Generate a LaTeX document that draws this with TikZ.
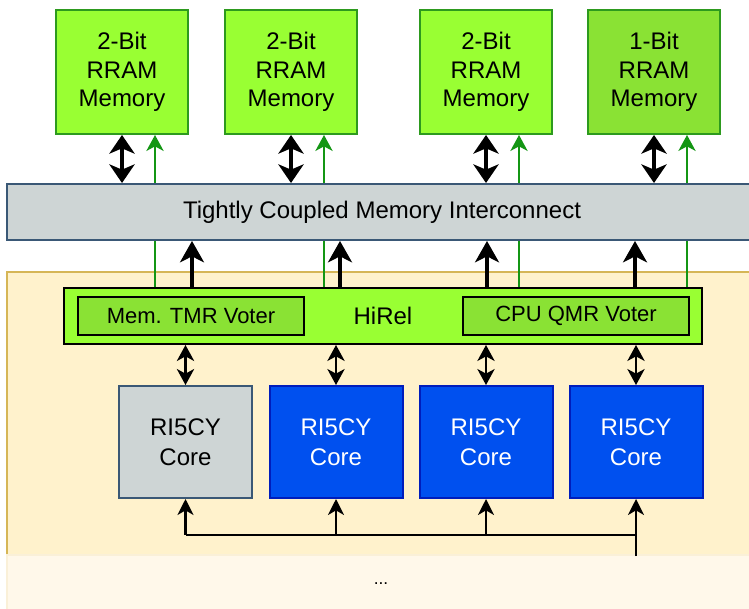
\documentclass[tikz,border=0pt]{standalone}
\usepackage{fontspec}
\setmainfont{Liberation Sans}
\usetikzlibrary{arrows.meta,calc}

\definecolor{memfill}{RGB}{153,255,51}
\definecolor{memfilldk}{RGB}{138,226,52}
\definecolor{memline}{RGB}{45,154,30}
\definecolor{busgreen}{RGB}{20,150,20}
\definecolor{tcifill}{RGB}{206,213,213}
\definecolor{tciline}{RGB}{58,88,118}
\definecolor{socfill}{RGB}{255,242,204}
\definecolor{socline}{RGB}{214,182,86}
\definecolor{fadefill}{RGB}{255,248,234}
\definecolor{corefill}{RGB}{0,80,239}
\definecolor{coreline}{RGB}{0,29,188}

\tikzset{every picture/.style={line width=0.75pt}}
\tikzset{
  membox/.style={draw=memline,fill=memfill,line width=1.5pt,minimum width=99pt,minimum height=93pt,
    inner sep=0pt,align=center,font=\fontsize{18}{21.5}\selectfont},
  corebox/.style={draw=coreline,fill=corefill,text=white,line width=1.5pt,minimum width=99.75pt,minimum height=84pt,
    inner sep=0pt,align=center,font=\fontsize{18}{22.5}\selectfont},
  voterbox/.style={draw=black,fill=memfilldk,line width=1.5pt,minimum width=169.5pt,minimum height=28.5pt,
    inner sep=0pt,font=\fontsize{16.5}{19}\selectfont},
  memlink/.style={line width=2.4pt,{Stealth[length=14pt,width=19pt,inset=4pt]}-{Stealth[length=14pt,width=19pt,inset=4pt]}},
  wrlink/.style={line width=2.4pt,-{Stealth[length=16pt,width=18pt,inset=4.5pt]}},
  eccline/.style={draw=busgreen,line width=1.1pt},
  corelink/.style={line width=1.6pt,{Stealth[length=12pt,width=13pt,inset=3.5pt]}-{Stealth[length=12pt,width=13pt,inset=3.5pt]}},
  buslink/.style={line width=1.6pt,-{Stealth[length=12pt,width=12pt,inset=3.5pt]}}
}

\begin{document}
\begin{tikzpicture}[x=0.75pt,y=0.75pt,yscale=-1,xscale=1]
  \clip (0,0) rectangle (749,609);

  %Shape: Rectangle [id:soc]
  \draw [draw=socline,fill=socfill,line width=1.5pt] (7,272) rectangle (770,555) ;
  %Shape: Rectangle [id:fade]
  \draw [draw=socline!12!fadefill,fill=fadefill,line width=1.5pt] (7,555) rectangle (770,620) ;

  % Memory banks
  \node [membox] (mem1) at (122,72) {2-Bit\\RRAM\\Memory};
  \node [membox] (mem2) at (291,72) {2-Bit\\RRAM\\Memory};
  \node [membox] (mem3) at (486,72) {2-Bit\\RRAM\\Memory};
  \node [membox,fill=memfilldk] (mem4) at (654,72) {1-Bit\\RRAM\\Memory};

  % Interconnect
  \node [draw=tciline,fill=tcifill,line width=1.5pt,minimum width=572.25pt,minimum height=42pt,inner sep=0pt] (tci) at (388.5,212) {};
  \node (tcilabel) at (382,212) {\fontsize{18}{21.5}\selectfont Tightly Coupled Memory Interconnect};

  % HiRel
  \node [draw=black,fill=memfill,line width=1.5pt,minimum width=478.5pt,minimum height=42pt,inner sep=0pt,
    font=\fontsize{18}{21.5}\selectfont] (hirel) at (383,316) {HiRel};
  \node [voterbox] (memvoter) at (191,316) {Mem. TMR Voter};
  \node [voterbox] (cpuvoter) at (576,316) {CPU QMR Voter};

  % Cores
  \node [corebox,fill=tcifill,draw=tciline,text=black] (core1) at (185.5,442) {RI5CY\\Core};
  \node [corebox] (core2) at (336,442) {RI5CY\\Core};
  \node [corebox] (core3) at (486,442) {RI5CY\\Core};
  \node [corebox] (core4) at (636,442) {RI5CY\\Core};

  \node (dots) at (381,584) {\fontsize{13}{15}\selectfont ...};

  % memory <-> interconnect
  \foreach \m in {mem1,mem2,mem3,mem4}{
    \draw [memlink] (\m.south) -- (\m.south |- tci.north) ;
    \draw [eccline,-{Stealth[length=12pt,width=13pt,inset=3.5pt]}] ([xshift=24.75pt]\m.south |- tci.north) -- ([xshift=24.75pt]\m.south) ;
    \draw [eccline] ([xshift=24.75pt]\m.south |- hirel.north) -- ([xshift=24.75pt]\m.south |- tci.south) ;
  }

  % HiRel -> interconnect
  \coordinate (up1) at (192,0);
  \coordinate (up2) at (340,0);
  \coordinate (up3) at (487,0);
  \coordinate (up4) at (635,0);
  \foreach \u in {up1,up2,up3,up4}
    \draw [wrlink] (hirel.north -| \u) -- (tci.south -| \u) ;

  % HiRel <-> cores
  \foreach \c in {core1,core2,core3,core4}
    \draw [corelink] (hirel.south -| \c.north) -- (\c.north) ;

  % shared bus
  \coordinate (busy) at (0,535);
  \coordinate (busend) at (636,556);
  \draw [line width=1.6pt] (busend) -- (core4.south |- busy) -- (core1.south |- busy) ;
  \foreach \c in {core1,core2,core3,core4}
    \draw [buslink] (\c.south |- busy) -- (\c.south) ;

\end{tikzpicture}
\end{document}
